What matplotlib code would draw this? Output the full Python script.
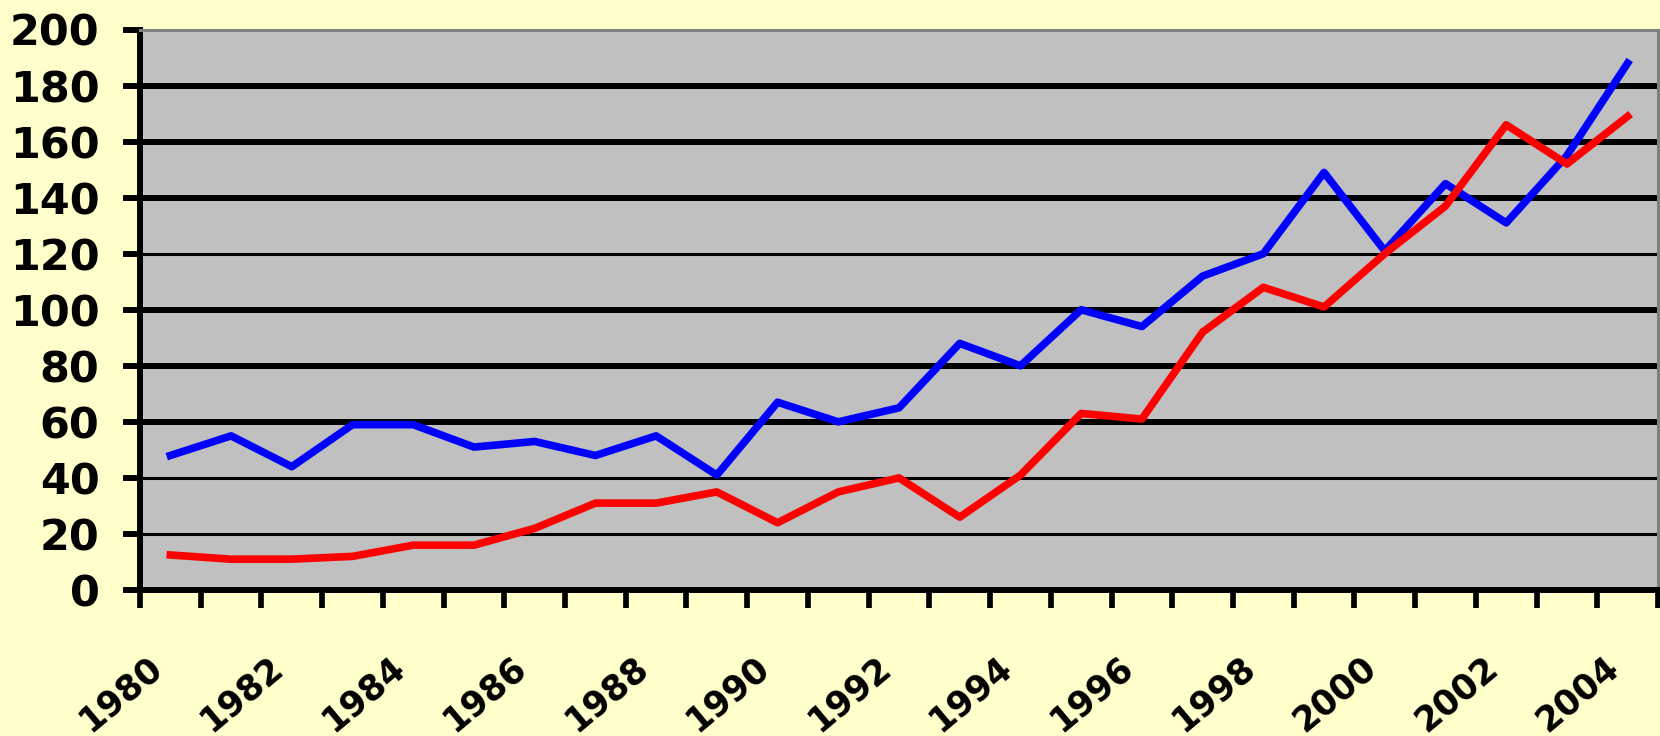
import numpy as np
import matplotlib
matplotlib.use("Agg")
import matplotlib.pyplot as plt
import matplotlib.transforms as mtransforms

plt.rcParams['font.family'] = ['DejaVu Sans']

years = list(range(1980, 2005))
blue = [48, 55, 44, 59, 59, 51, 53, 48, 55, 41, 67, 60, 65, 88, 80, 100, 94, 112, 120, 149, 121, 145, 131, 155, 188]
red = [12.5, 11, 11, 12, 16, 16, 22, 31, 31, 35, 24, 35, 40, 26, 41, 63, 61, 92, 108, 101, 120, 137, 166, 152, 169]
yticks = list(range(0, 201, 20))
thin_grid = [20, 40, 120]

bg = '#FFFFCC'
fig = plt.figure(figsize=(16.6, 7.36), dpi=100, facecolor=bg)
ax = fig.add_axes([140/1660, (736-590)/736, (1658-140)/1660, (590-29.5)/736])
ax.set_facecolor('#C0C0C0')

x = np.arange(len(years))

# grid lines, some thick some thin like the original
for v in yticks[1:-1]:
    lw = 2.2 if v in thin_grid else 4.3
    ax.axhline(v, color='black', lw=lw, zorder=1)

ax.plot(x, blue, color='#0000FF', lw=5.5, zorder=3)
ax.plot(x, red, color='#FF0000', lw=5.5, zorder=3)

ax.set_xlim(-0.5, len(years) - 0.5)
ax.set_ylim(0, 200)

ax.set_yticks(yticks)
ax.set_yticklabels([str(v) for v in yticks], fontsize=31, fontweight='bold')
ax.tick_params(axis='y', length=12.2, width=4.3, pad=17, color='black')

ax.set_xticks(np.arange(len(years) + 1) - 0.5)
ax.set_xticklabels([])
ax.tick_params(axis='x', length=13, width=4.1, color='black')

for s in ['left', 'bottom']:
    ax.spines[s].set_color('black')
    ax.spines[s].set_linewidth(4.3)
for s in ['top', 'right']:
    ax.spines[s].set_color('#808080')
    ax.spines[s].set_linewidth(2.2)

trans = mtransforms.offset_copy(ax.get_xaxis_transform(), fig=fig, x=-24, y=-60, units='dots')
for i, yr in enumerate(years):
    if yr % 2 == 0:
        ax.text(i, 0, str(yr), transform=trans, rotation=40, rotation_mode='anchor',
                ha='right', va='top', fontsize=25, fontweight='bold')

fig.savefig('out.png', dpi=100, facecolor=bg)
